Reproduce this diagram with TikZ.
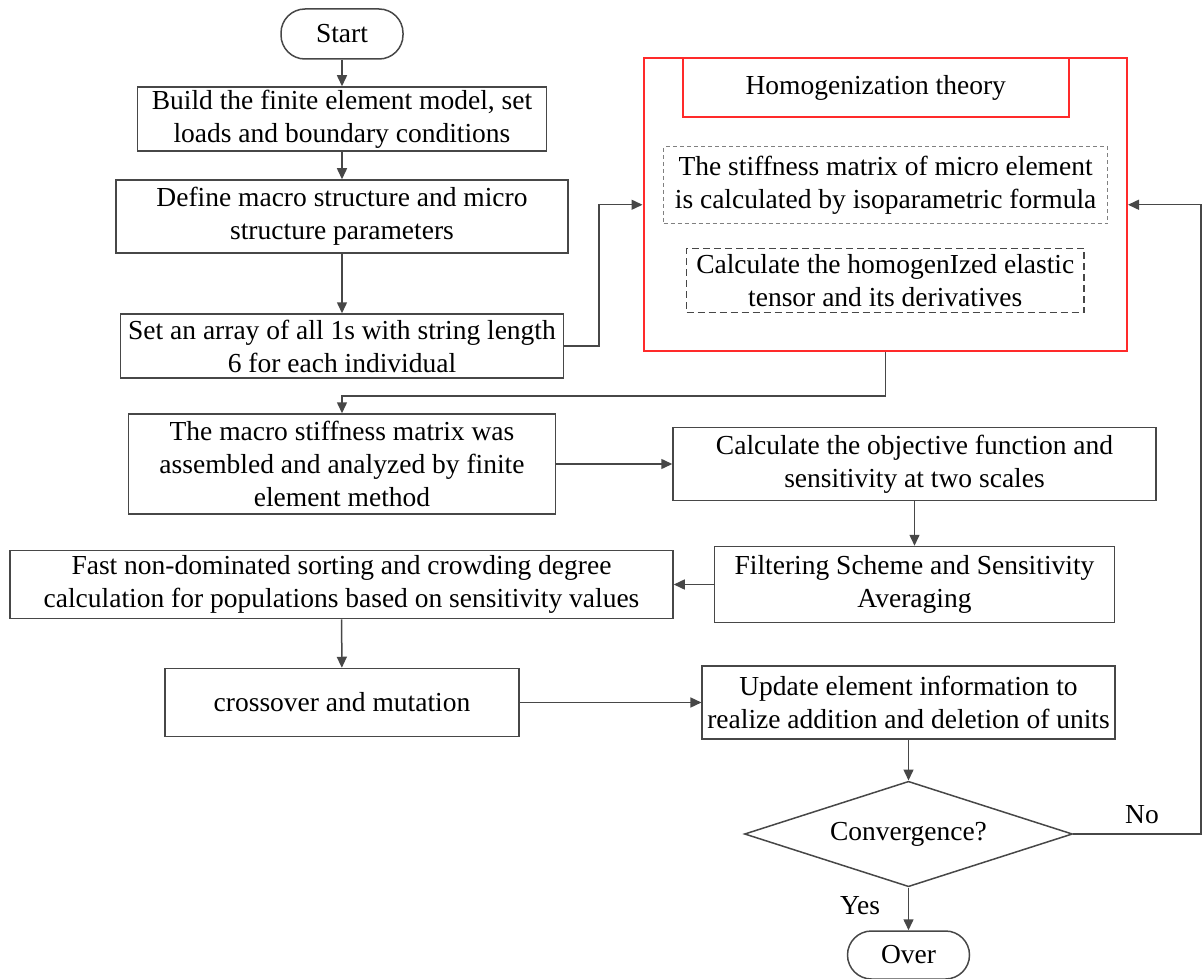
\documentclass[tikz,border=0pt]{standalone}
\usepackage{fontspec}
\setmainfont{Liberation Serif}
\usetikzlibrary{arrows.meta,shapes.geometric}
\definecolor{lc}{HTML}{474747}
\definecolor{rc}{HTML}{FF2A2A}
\begin{document}
\begin{tikzpicture}[x=1pt,y=-1pt,
  every node/.style={font=\fontsize{27.5}{33}\selectfont, align=center, inner sep=0pt},
  box/.style={draw=lc, line width=1.5pt, rectangle},
  term/.style={draw=lc, line width=1.5pt, rectangle, rounded corners=24pt},
  redbox/.style={draw=rc, line width=2pt, rectangle},
  dbox/.style={draw=lc, line width=1.3pt, dash pattern=on 7pt off 4pt, rectangle},
  dboxl/.style={draw=gray, line width=1pt, dash pattern=on 4pt off 3pt, rectangle},
  dec/.style={draw=lc, line width=1.5pt, diamond, shape aspect=3},
  arr/.style={draw=lc, line width=1.5pt, -{Triangle[length=11pt,width=10pt]}},
  ln/.style={draw=lc, line width=1.5pt}]
\useasboundingbox (0,0) rectangle (1203,979);
\node[term, minimum width=122pt, minimum height=50pt] (start) at (342,34) {Start};
\node[box, minimum width=409pt, minimum height=64pt] (build) at (342,119) {Build the finite element model, set\\loads and boundary conditions};
\node[box, minimum width=452pt, minimum height=73pt] (define) at (342,216.5) {Define macro structure and micro\\structure parameters};
\node[box, minimum width=443pt, minimum height=64pt] (set) at (342,346) {Set an array of all 1s with string length\\6 for each individual};
\node[redbox, minimum width=483.5pt, minimum height=292.5pt] (red) at (885.25,204.75) {};
\node[redbox, minimum width=385.5pt, minimum height=58.5pt] (title) at (875.75,87.75) {Homogenization theory};
\node[dboxl, minimum width=444pt, minimum height=77pt] (d1) at (885.6,185.3) {The stiffness matrix of micro element\\is calculated by isoparametric formula};
\node[dbox, minimum width=397.5pt, minimum height=64pt] (d2) at (885.25,280.3) {Calculate the homogenIzed elastic\\tensor and its derivatives};
\node[box, minimum width=427pt, minimum height=100pt] (macro) at (342,464) {The macro stiffness matrix was\\assembled and analyzed by finite\\element method};
\node[box, minimum width=483pt, minimum height=73.4pt] (calc) at (914.5,464) {Calculate the objective function and\\sensitivity at two scales};
\node[box, minimum width=400pt, minimum height=76pt] (filter) at (914.5,584.5) {Filtering Scheme and Sensitivity\\Averaging};
\node[box, minimum width=663pt, minimum height=68pt] (fast) at (341.5,584.5) {Fast non-dominated sorting and crowding degree\\calculation for populations based on sensitivity values};
\node[box, minimum width=354.4pt, minimum height=68pt] (cross) at (342,702.5) {crossover and mutation};
\node[box, minimum width=412.6pt, minimum height=73.3pt] (update) at (908.5,702.5) {Update element information to\\realize addition and deletion of units};
\node[dec, minimum width=328pt, minimum height=105.5pt] (conv) at (908.5,834) {Convergence?};
\node[term, minimum width=122pt, minimum height=48pt] (over) at (908.5,955) {Over};
\node (no) at (1142,815) {No};
\node (yes) at (860,906) {Yes};
\coordinate (j1) at (599,346);
\coordinate (j2) at (342,396);
\coordinate (j3) at (1201,834);
\draw[arr] (start) -- (build);
\draw[arr] (build) -- (define);
\draw[arr] (define) -- (set);
\draw[arr] (set.east) -- (j1) |- (red.west);
\draw[arr] (red.south) |- (j2) -- (macro.north);
\draw[arr] (macro.east) -- (calc.west);
\draw[arr] (calc) -- (filter);
\draw[arr] (filter.west) -- (fast.east);
\draw[arr] (fast) -- (cross);
\draw[arr] (cross.east) -- (update.west);
\draw[arr] (update) -- (conv);
\draw[arr] (conv.east) -- (j3) |- (red.east);
\draw[arr] (conv) -- (over);
\end{tikzpicture}
\end{document}
